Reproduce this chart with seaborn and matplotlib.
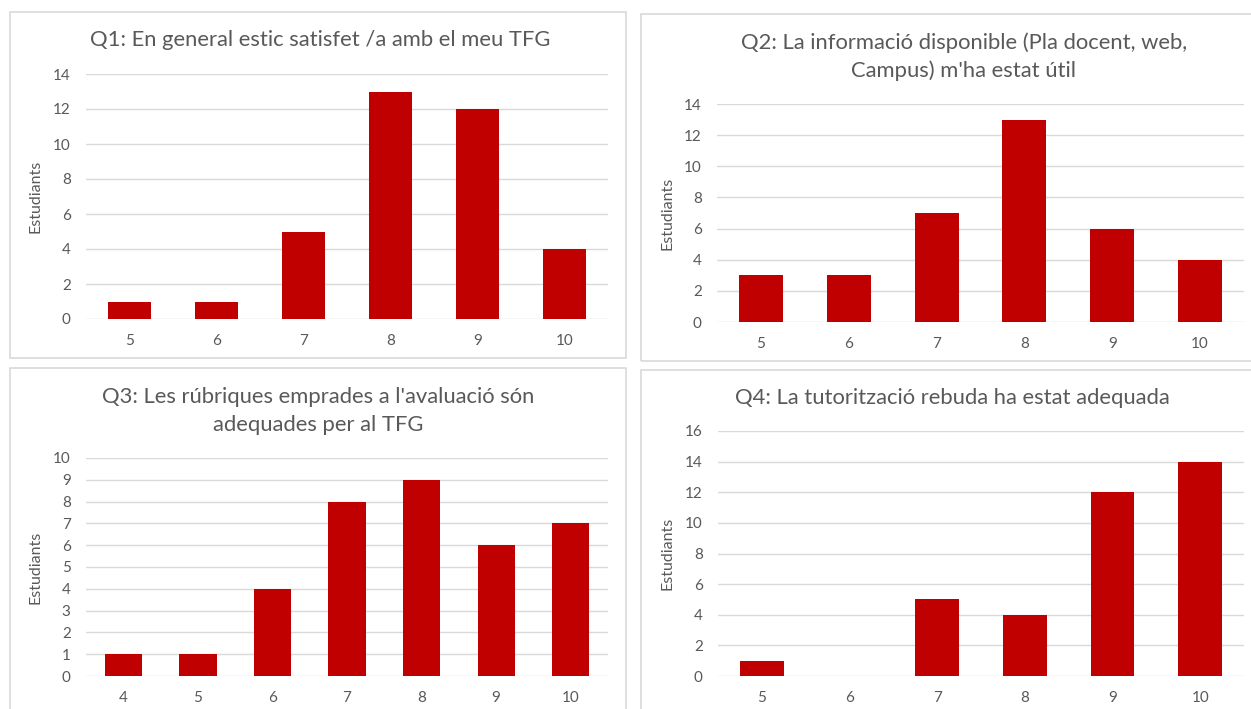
import matplotlib
matplotlib.use("Agg")
import matplotlib.pyplot as plt
import seaborn as sns
import pandas as pd
from matplotlib.patches import Rectangle

# Survey answers (score -> number of students)
q1_scores = ["5", "6", "7", "8", "9", "10"]
q1_counts = [1, 1, 5, 13, 12, 4]

q2_scores = ["5", "6", "7", "8", "9", "10"]
q2_counts = [3, 3, 7, 13, 6, 4]

q3_scores = ["4", "5", "6", "7", "8", "9", "10"]
q3_counts = [1, 1, 4, 8, 9, 6, 7]

q4_scores = ["5", "6", "7", "8", "9", "10"]
q4_counts = [1, 0, 5, 4, 12, 14]

titles = [
    "Q1: En general estic satisfet /a amb el meu TFG",
    "Q2: La informació disponible (Pla docent, web,\nCampus) m'ha estat útil",
    "Q3: Les rúbriques emprades a l'avaluació són\nadequades per al TFG",
    "Q4: La tutorització rebuda ha estat adequada",
]

sns.set_theme(style="white")
plt.rcParams["font.family"] = ["Lato", "DejaVu Sans"]

BAR = "#C00000"
GRID = "#D9D9D9"
TXT = "#595959"

W, H = 1251, 709
fig = plt.figure(figsize=(W / 100, H / 100), dpi=100)


def px(left, top, right, bottom):
    return [left / W, 1 - bottom / H, (right - left) / W, (bottom - top) / H]


# panel frames (left, top, right, bottom in pixels)
frames = [(10, 12, 626, 358), (641, 14, 1300, 361), (10, 368, 626, 720), (641, 370, 1300, 720)]
for l, t, r, b in frames:
    fig.add_artist(Rectangle((l / W, 1 - b / H), (r - l) / W, (b - t) / H,
                             transform=fig.transFigure, fill=False,
                             edgecolor=GRID, linewidth=1.2))

panels = [
    (q1_scores, q1_counts, px(86, 74, 608, 319), 14, 2, -0.084, (320, 40)),
    (q2_scores, q2_counts, px(717, 104, 1244, 322), 14, 2, -0.080, (964, 57)),
    (q3_scores, q3_counts, px(86, 458, 608, 676), 10, 1, -0.084, (318, 411)),
    (q4_scores, q4_counts, px(718, 431, 1244, 676), 16, 2, -0.082, (952, 398)),
]

for (scores, counts, pos, ymax, step, lab_x, tpos), title in zip(panels, titles):
    ax = fig.add_axes(pos)
    df = pd.DataFrame({"score": scores, "count": counts})
    sns.barplot(data=df, x="score", y="count", color=BAR, width=0.5,
                saturation=1, ax=ax, linewidth=0)
    ax.set_ylim(0, ymax)
    ax.set_yticks(range(0, ymax + 1, step))
    ax.set_xlim(-0.5, len(scores) - 0.5)
    ax.yaxis.grid(True, color=GRID, linewidth=1)
    ax.set_axisbelow(True)
    for s in ax.spines.values():
        s.set_visible(False)
    ax.tick_params(axis="both", length=0, colors=TXT, labelsize=11)
    ax.tick_params(axis="x", pad=11)
    ax.tick_params(axis="y", pad=11)
    ax.set_xlabel("")
    ax.set_ylabel("Estudiants", color=TXT, fontsize=11.5)
    ax.yaxis.set_label_coords(lab_x, 0.5)
    fig.text(tpos[0] / W, 1 - tpos[1] / H, title, ha="center", va="center",
             fontsize=15.8, color=TXT, linespacing=1.45)

fig.savefig("out.png", dpi=100)
